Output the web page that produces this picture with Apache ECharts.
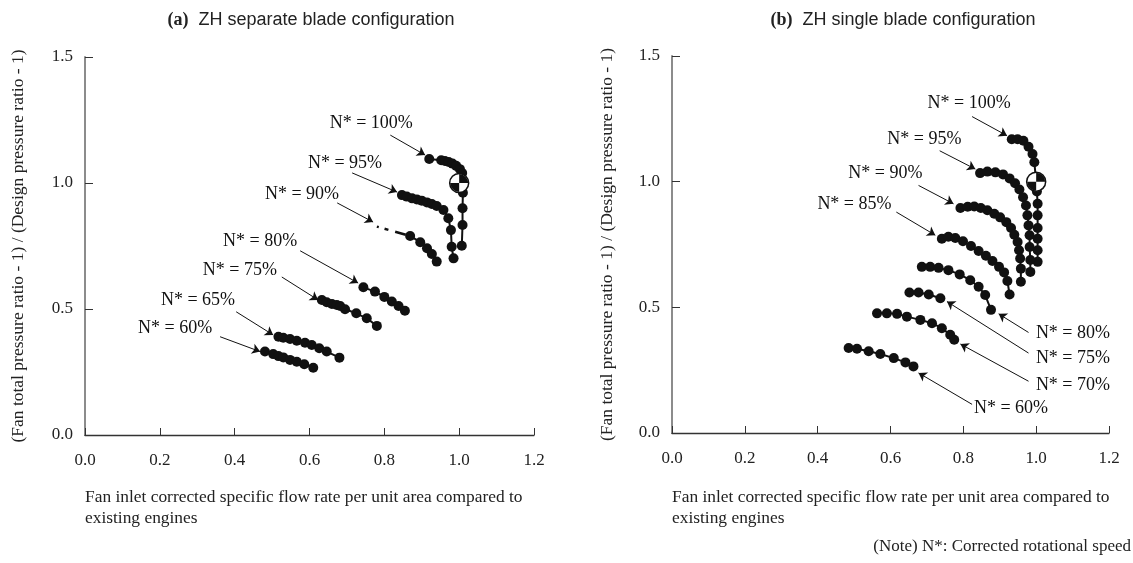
<!DOCTYPE html>
<html>
<head>
<meta charset="utf-8">
<script src="https://cdn.jsdelivr.net/npm/echarts@6/dist/echarts.min.js"></script>
<style>
  html, body { margin: 0; padding: 0; background: #fff; }
  #chart { width: 1133px; height: 563px; }
</style>
</head>
<body>
<div id="chart"></div>
<script>
// ---- axis ticks ----
const xTicks = [0.0, 0.2, 0.4, 0.6, 0.8, 1.0, 1.2];
const yTicks = [0.0, 0.5, 1.0, 1.5];

// ---- (a) ZH separate blade configuration ----
const a100 = [[0.920,1.095],[0.952,1.090],[0.962,1.087],[0.972,1.083],[0.982,1.077],[0.992,1.068],[1.002,1.055],[1.008,1.040],[1.0,1.0],[1.010,0.961],[1.009,0.900],[1.009,0.833],[1.007,0.751]];
const a95 = [[0.847,0.952],[0.860,0.946],[0.874,0.939],[0.887,0.935],[0.900,0.930],[0.914,0.923],[0.927,0.917],[0.940,0.909],[0.958,0.893],[0.971,0.860],[0.978,0.813],[0.980,0.747],[0.985,0.701]];
const a90dash = [[0.780,0.827],[0.869,0.790]];
const a90 = [[0.869,0.790],[0.896,0.765],[0.914,0.741],[0.927,0.718],[0.940,0.688]];
const a80 = [[0.744,0.586],[0.775,0.569],[0.800,0.548],[0.820,0.530],[0.838,0.512],[0.855,0.493]];
const a75 = [[0.633,0.536],[0.646,0.527],[0.660,0.520],[0.673,0.516],[0.682,0.512],[0.695,0.499],[0.725,0.483],[0.753,0.463],[0.780,0.433]];
const a65 = [[0.517,0.390],[0.530,0.386],[0.548,0.381],[0.566,0.374],[0.588,0.366],[0.606,0.357],[0.626,0.344],[0.646,0.331],[0.680,0.307]];
const a60 = [[0.481,0.331],[0.503,0.321],[0.517,0.313],[0.530,0.308],[0.548,0.298],[0.566,0.291],[0.586,0.281],[0.610,0.267]];
const aLabels = ['N* = 100%','N* = 95%','N* = 90%','N* = 80%','N* = 75%','N* = 65%','N* = 60%'];
const aLabelPos = [[0.765,1.238],[0.695,1.079],[0.580,0.956],[0.468,0.770],[0.414,0.655],[0.302,0.536],[0.241,0.425]];
const aArrowFrom = [[0.816,1.190],[0.714,1.040],[0.674,0.921],[0.575,0.731],[0.526,0.627],[0.404,0.489],[0.361,0.390]];
const aArrowTo   = [[0.909,1.111],[0.834,0.964],[0.770,0.845],[0.730,0.603],[0.623,0.536],[0.503,0.397],[0.468,0.331]];

// ---- (b) ZH single blade configuration ----
const b100 = [[0.933,1.169],[0.949,1.169],[0.965,1.163],[0.979,1.139],[0.990,1.110],[0.995,1.077],[1.0,1.0],[1.002,0.961],[1.004,0.912],[1.004,0.866],[1.004,0.816],[1.004,0.773],[1.004,0.727],[1.004,0.681]];
const b95 = [[0.846,1.034],[0.866,1.040],[0.888,1.037],[0.909,1.029],[0.927,1.013],[0.942,0.994],[0.954,0.969],[0.964,0.938],[0.972,0.905],[0.976,0.866],[0.979,0.826],[0.982,0.787],[0.982,0.740],[0.984,0.688],[0.984,0.641]];
const b90 = [[0.792,0.895],[0.812,0.900],[0.830,0.901],[0.848,0.895],[0.866,0.886],[0.885,0.872],[0.901,0.858],[0.918,0.839],[0.931,0.816],[0.940,0.789],[0.949,0.760],[0.953,0.727],[0.956,0.694],[0.958,0.654],[0.958,0.602]];
const b85 = [[0.741,0.773],[0.759,0.781],[0.778,0.776],[0.799,0.763],[0.821,0.744],[0.842,0.724],[0.862,0.705],[0.880,0.684],[0.898,0.661],[0.912,0.639],[0.921,0.605],[0.927,0.551]];
const b80 = [[0.686,0.661],[0.709,0.661],[0.732,0.657],[0.759,0.648],[0.790,0.631],[0.819,0.608],[0.842,0.582],[0.860,0.549],[0.876,0.490]];
const b75 = [[0.652,0.559],[0.677,0.559],[0.705,0.551],[0.737,0.536]];
const b70 = [[0.563,0.476],[0.590,0.476],[0.618,0.474],[0.645,0.463],[0.682,0.450],[0.714,0.437],[0.741,0.417],[0.764,0.391],[0.775,0.371]];
const b60 = [[0.485,0.338],[0.508,0.335],[0.540,0.325],[0.572,0.314],[0.609,0.298],[0.641,0.281],[0.663,0.265]];
const bLabels = ['N* = 100%','N* = 95%','N* = 90%','N* = 85%','N* = 80%','N* = 75%','N* = 70%','N* = 60%'];
const bLabelPos = [[0.816,1.310],[0.693,1.168],[0.586,1.033],[0.501,0.911],[1.101,0.396],[1.101,0.297],[1.101,0.190],[0.931,0.099]];
const bArrowFrom = [[0.824,1.259],[0.735,1.123],[0.677,0.985],[0.616,0.879],[0.979,0.400],[0.979,0.318],[0.979,0.206],[0.824,0.114]];
const bArrowTo   = [[0.920,1.183],[0.833,1.050],[0.773,0.912],[0.723,0.787],[0.897,0.474],[0.755,0.523],[0.792,0.354],[0.677,0.239]];

const designPoint = [[1.0, 1.0]];

const titleA = 'ZH separate blade configuration';
const titleB = 'ZH single blade configuration';
const xName = 'Fan inlet corrected specific flow rate per unit area compared to\nexisting engines';
const yName = '(Fan total pressure ratio - 1) / (Design pressure ratio - 1)';
const noteText = '(Note) N*: Corrected rotational speed';

const INK = '#111';
const SERIF = 'Liberation Serif';

function curve(data, idx, dashed) {
  return {
    type: 'line', xAxisIndex: idx, yAxisIndex: idx, data: data,
    symbol: dashed ? 'none' : 'circle', symbolSize: 10, showSymbol: !dashed,
    itemStyle: { color: INK, opacity: 1 },
    lineStyle: { color: INK, width: dashed ? 2.5 : 2, type: dashed ? [2, 6, 4, 7, 11, 3] : 'solid' },
    silent: true, z: 3, clip: false
  };
}
function annotations(labels, pos, from, to, idx) {
  return {
    type: 'scatter', xAxisIndex: idx, yAxisIndex: idx, symbolSize: 0, silent: true, clip: false,
    itemStyle: { opacity: 1 },
    data: labels.map((t, i) => ({ name: t, value: pos[i] })),
    label: { show: true, position: 'inside', formatter: '{b}', fontFamily: SERIF, fontSize: 18, color: INK },
    markLine: {
      silent: true, animation: false, symbol: ['none', 'arrow'], symbolSize: 8,
      label: { show: false },
      lineStyle: { color: INK, width: 1, type: 'solid', opacity: 1 },
      data: from.map((f, i) => [{ coord: f }, { coord: to[i] }])
    }
  };
}
function design(idx) {
  return [
    { type: 'scatter', xAxisIndex: idx, yAxisIndex: idx, data: designPoint, symbol: 'circle', symbolSize: 19,
      itemStyle: { color: '#fff', borderColor: INK, borderWidth: 1.5, opacity: 1 }, z: 5, silent: true },
    { type: 'scatter', xAxisIndex: idx, yAxisIndex: idx, data: designPoint, symbolSize: 18,
      symbol: 'path://M10,10 L10,0 A10,10 0 0 1 20,10 Z M10,10 L10,20 A10,10 0 0 1 0,10 Z',
      itemStyle: { color: INK, opacity: 1 }, z: 6, silent: true }
  ];
}
function xAxis(idx) {
  return {
    type: 'value', gridIndex: idx, min: xTicks[0], max: xTicks[xTicks.length - 1], interval: xTicks[1] - xTicks[0],
    splitLine: { show: false },
    axisLine: { show: true, lineStyle: { color: '#333', width: 1.3 } },
    axisTick: { show: true, inside: true, length: 7, lineStyle: { color: '#333' } },
    axisLabel: { formatter: v => v.toFixed(1), fontFamily: SERIF, fontSize: 17, color: '#222', margin: 17 }
  };
}
function yAxis(idx, gap) {
  return {
    type: 'value', gridIndex: idx, min: yTicks[0], max: yTicks[yTicks.length - 1], interval: yTicks[1] - yTicks[0],
    splitLine: { show: false },
    axisLine: { show: true, lineStyle: { color: '#8c8c8c', width: 2 } },
    axisTick: { show: true, inside: true, length: 8, lineStyle: { color: '#333' } },
    axisLabel: { formatter: v => v.toFixed(1), fontFamily: SERIF, fontSize: 17, color: '#222', margin: 12 },
    name: yName, nameLocation: 'middle', nameGap: gap,
    nameTextStyle: { fontFamily: SERIF, fontSize: 17.5, color: '#222' }
  };
}
function titleRich(tag, text, x) {
  return {
    text: '{a|' + tag + '}  {b|' + text + '}', left: x, top: 6, textAlign: 'center',
    textStyle: { fontWeight: 'normal', rich: {
      a: { fontFamily: SERIF, fontWeight: 'bold', fontSize: 18, color: '#222' },
      b: { fontFamily: 'Liberation Sans', fontWeight: 'normal', fontSize: 18, color: '#222' }
    } }
  };
}

const chart = echarts.init(document.getElementById('chart'), null, { renderer: 'canvas' });
chart.setOption({
  animation: false,
  backgroundColor: '#fff',
  title: [titleRich('(a)', titleA, 306), titleRich('(b)', titleB, 898)],
  grid: [
    { left: 85, top: 57, width: 449, height: 378 },
    { left: 672, top: 56, width: 437, height: 377 }
  ],
  xAxis: [xAxis(0), xAxis(1)],
  yAxis: [yAxis(0, 58), yAxis(1, 56)],
  series: [
    curve(a100, 0), curve(a95, 0), curve(a90dash, 0, true), curve(a90, 0), curve(a80, 0),
    curve(a75, 0), curve(a65, 0), curve(a60, 0),
    annotations(aLabels, aLabelPos, aArrowFrom, aArrowTo, 0),
    ...design(0),
    curve(b100, 1), curve(b95, 1), curve(b90, 1), curve(b85, 1), curve(b80, 1),
    curve(b75, 1), curve(b70, 1), curve(b60, 1),
    annotations(bLabels, bLabelPos, bArrowFrom, bArrowTo, 1),
    ...design(1)
  ],
  graphic: [
    { type: 'text', left: 85, top: 487, style: { text: xName, font: '17.4px "Liberation Serif"', fill: '#222', lineHeight: 21 } },
    { type: 'text', left: 672, top: 487, style: { text: xName, font: '17.4px "Liberation Serif"', fill: '#222', lineHeight: 21 } },
    { type: 'text', right: 2, top: 538, style: { text: noteText, font: '17px "Liberation Serif"', fill: '#222' } }
  ]
});
</script>
</body>
</html>
